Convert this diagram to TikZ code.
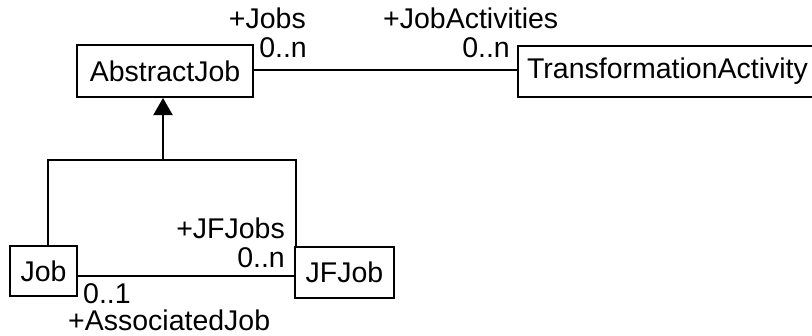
\documentclass[tikz,border=0pt]{standalone}
\usepackage{fontspec}
\setmainfont{Liberation Sans}
\usetikzlibrary{arrows.meta}
\begin{document}
\begin{tikzpicture}[x=1pt,y=-1pt,
  every node/.style={font=\fontsize{28.5}{34}\selectfont},
  classbox/.style={draw, line width=2pt, inner sep=0pt, anchor=center},
  role/.style={inner sep=0pt},
  link/.style={line width=2pt},
  inherit/.style={line width=2pt, -{Triangle[width=19pt,length=17pt]}}]
  \useasboundingbox (0,0) rectangle (812,335);
  \clip (0,0) rectangle (812,335);

  % classes
  \node[classbox, minimum width=176pt, minimum height=52pt] (abstractjob) at (165,71) {AbstractJob};
  \node[classbox, minimum width=299pt, minimum height=51pt] (activity) at (667.5,71.5) {TransformationActivity};
  \node[classbox, minimum width=67pt, minimum height=50pt] (job) at (43.5,271) {Job};
  \node[classbox, minimum width=99pt, minimum height=51pt] (jfjob) at (344.5,272.5) {JFJob};

  % association AbstractJob -- TransformationActivity
  \draw[link] (abstractjob.east |- 0,70) -- (activity.west |- 0,70);
  \node[role, anchor=base east] (jobsrole) at (306,28) {+Jobs};
  \node[role, anchor=base east] (jobsmult) at (307,57) {0..n};
  \node[role, anchor=base west] (actrole) at (383,28) {+JobActivities};
  \node[role, anchor=base east] (actmult) at (510,57) {0..n};

  % generalization Job, JFJob -> AbstractJob
  \coordinate (fork) at (163,160);
  \draw[link] ([xshift=4.5pt]job.north) |- (fork) -| ([xshift=1.5pt]jfjob.north west);
  \draw[inherit] (fork) -- (abstractjob.south -| fork);

  % association Job -- JFJob
  \draw[link] (job.east |- 0,276) -- (jfjob.west |- 0,276);
  \node[role, anchor=base east] (jfrole) at (285,238) {+JFJobs};
  \node[role, anchor=base east] (jfmult) at (285,267) {0..n};
  \node[role, anchor=base west] (assocmult) at (83,303) {0..1};
  \node[role, anchor=base west] (assocrole) at (68,330) {+AssociatedJob};
\end{tikzpicture}
\end{document}
